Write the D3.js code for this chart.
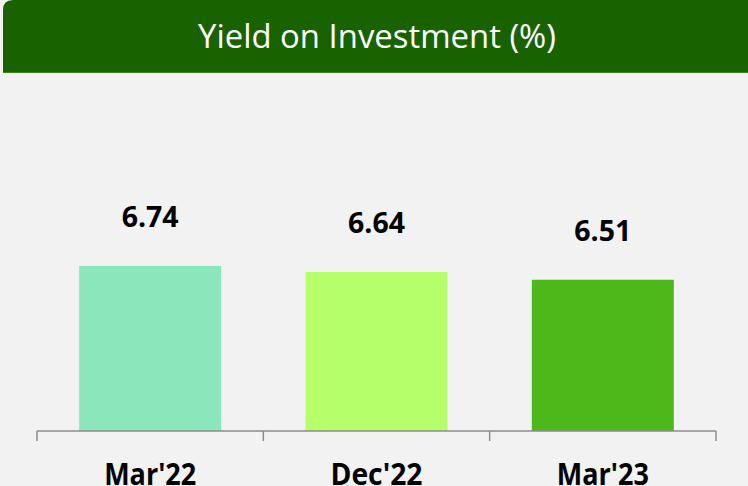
<!DOCTYPE html>
<html>
<head>
<meta charset="utf-8">
<script src="https://cdn.jsdelivr.net/npm/d3@7/dist/d3.min.js"></script>
<style>
  html, body { margin: 0; padding: 0; background: #f2f2f2; }
  svg { display: block; }
</style>
</head>
<body>
<svg id="chart" width="748" height="486"></svg>
<script>
// Yield on investment by period
const categories = ["Mar'22", "Dec'22", "Mar'23"];
const yieldValues = [6.74, 6.64, 6.51];
const barColors = ["#8ce6bb", "#b5ff6a", "#4cb81a"];
const valueLabels = ["6.74", "6.64", "6.51"];
const yDomain = [4, 8];
const title = "Yield on Investment (%)";

const W = 748, H = 486;
const svg = d3.select("#chart");
const font = "'Open Sans', 'Noto Sans', sans-serif";

// background
svg.append("rect").attr("width", W).attr("height", H).attr("fill", "#f2f2f2");

// header band with rounded top-left corner
svg.append("path")
  .attr("d", "M3,72 L3,10 Q3,0 13,0 L748,0 L748,72 Z")
  .attr("fill", "#186200");
svg.append("line").attr("x1", 3).attr("x2", 748).attr("y1", 72.5).attr("y2", 72.5)
  .attr("stroke", "#3a8a1a").attr("stroke-width", 1);

// fit a text element to a given width by adjusting its font size
function fitWidth(sel, target) {
  const node = sel.node();
  const fs = parseFloat(sel.attr("font-size"));
  const w = node.getComputedTextLength();
  sel.attr("font-size", (fs * target / w).toFixed(2));
}

// title: tall, narrow lettering squeezed to its width
svg.append("text")
  .attr("x", 377).attr("y", 48)
  .attr("text-anchor", "middle")
  .attr("font-family", font).attr("font-size", 33)
  .attr("textLength", 358).attr("lengthAdjust", "spacingAndGlyphs")
  .attr("fill", "#ffffff")
  .text(title);

// scales
const x = d3.scaleBand()
  .domain(categories)
  .range([37, 716])
  .paddingInner(0.3726)
  .paddingOuter(0.1863);

const y = d3.scaleLinear().domain(yDomain).range([431, 190]);

// bars
svg.selectAll("rect.bar")
  .data(categories)
  .join("rect")
  .attr("class", "bar")
  .attr("x", d => x(d))
  .attr("width", x.bandwidth())
  .attr("y", (d, i) => y(yieldValues[i]))
  .attr("height", (d, i) => y(yDomain[0]) - y(yieldValues[i]))
  .attr("fill", (d, i) => barColors[i]);

// axis line with boundary ticks
const axisG = svg.append("g").attr("stroke", "#8c8c8c").attr("stroke-width", 1.5).attr("fill", "none");
axisG.append("line").attr("x1", 37).attr("x2", 716).attr("y1", 431).attr("y2", 431);
const step = x.step();
const boundaries = d3.range(categories.length + 1).map(i => 37 + i * step);
axisG.selectAll("line.tick")
  .data(boundaries)
  .join("line")
  .attr("class", "tick")
  .attr("x1", d => d).attr("x2", d => d)
  .attr("y1", 431).attr("y2", 441);

// value labels
svg.selectAll("text.val")
  .data(categories)
  .join("text")
  .attr("class", "val")
  .attr("x", d => x(d) + x.bandwidth() / 2)
  .attr("y", (d, i) => y(yieldValues[i]) - 39)
  .attr("text-anchor", "middle")
  .attr("font-family", font).attr("font-weight", "bold").attr("font-size", 26)
  .attr("fill", "#000")
  .text((d, i) => valueLabels[i])
  .each(function () { fitWidth(d3.select(this), 57); });

// category labels
svg.selectAll("text.cat")
  .data(categories)
  .join("text")
  .attr("class", "cat")
  .attr("x", d => x(d) + x.bandwidth() / 2)
  .attr("y", 485)
  .attr("text-anchor", "middle")
  .attr("font-family", font).attr("font-weight", "bold").attr("font-size", 31)
  .attr("textLength", 92).attr("lengthAdjust", "spacingAndGlyphs")
  .attr("fill", "#000")
  .text(d => d);
</script>
</body>
</html>
